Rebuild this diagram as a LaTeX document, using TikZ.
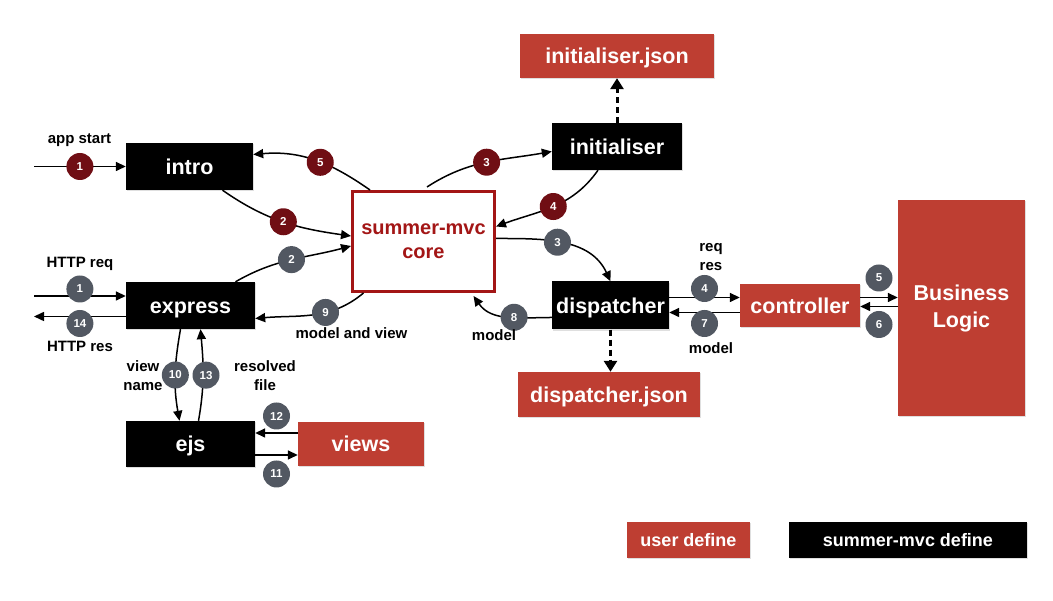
\documentclass[tikz,border=0pt]{standalone}
\usepackage{fontspec}
\setmainfont{Liberation Sans}
\usetikzlibrary{arrows.meta,calc,shadows}
\definecolor{ured}{RGB}{190,62,50}
\definecolor{dred}{RGB}{112,14,20}
\definecolor{bgrey}{RGB}{82,88,98}
\definecolor{cored}{RGB}{163,22,22}
\begin{document}
\begin{tikzpicture}[x=1pt,y=1pt,
 shad/.style={drop shadow={shadow xshift=1.2pt,shadow yshift=-1.2pt,opacity=0.25}},
 boxtxt/.style={font=\fontsize{21.5}{26}\selectfont\bfseries, text=white, inner sep=0pt, text height=17.5pt, text depth=2pt, shad},
 blk/.style={boxtxt, fill=black},
 usr/.style={boxtxt, fill=ured},
 legtxt/.style={font=\fontsize{18}{20}\selectfont\bfseries, text height=14.5pt, text depth=1.7pt},
 badge/.style={circle, text=white, minimum size=27pt, inner sep=0pt, font=\fontsize{11.5}{12}\selectfont\bfseries},
 badgeR/.style={badge, fill=dred},
 badgeG/.style={badge, fill=bgrey},
 lbl/.style={font=\fontsize{15}{19}\selectfont\bfseries, align=center, inner sep=0pt},
 arr/.style={line width=1.5pt, -{Triangle[length=10pt,width=9pt]}},
 darr/.style={line width=3pt, dash pattern=on 6pt off 4pt, -{Triangle[length=11pt,width=13pt]}},
]
\fill[white] (0,0) rectangle (1053,601);
\useasboundingbox (0,0) rectangle (1053,601);

% boxes
\node[blk, minimum width=127pt, minimum height=47pt] (intro) at (189.5,434.5) {intro};
\node[blk, minimum width=129pt, minimum height=47pt] (express) at (190.5,295.5) {express};
\node[blk, minimum width=129pt, minimum height=46pt] (ejs) at (190.5,157) {ejs};
\node[usr, minimum width=126pt, minimum height=44pt] (views) at (361,157) {views};
\node[draw=cored, line width=3pt, fill=white, text=cored, minimum width=142pt, minimum height=100pt, align=center, inner sep=0pt, font=\fontsize{20}{24}\selectfont\bfseries] (core) at (423.5,359.5) {summer-mvc\\core};
\node[blk, minimum width=130pt, minimum height=47pt] (init) at (617,454.5) {initialiser};
\node[usr, minimum width=194pt, minimum height=44pt] (initj) at (617,545) {initialiser.json};
\node[blk, minimum width=117pt, minimum height=48pt] (disp) at (610.5,295.5) {dispatcher};
\node[usr, minimum width=182pt, minimum height=45pt] (dispj) at (609,206.5) {dispatcher.json};
\node[usr, minimum width=120pt, minimum height=43pt] (ctrl) at (800,295.5) {controller};
\node[fill=ured, text=white, inner sep=0pt, shad, minimum width=127pt, minimum height=216pt, align=center, font=\fontsize{21.5}{27}\selectfont\bfseries] (bl) at (961.5,293) {Business\\Logic};
\node[usr, legtxt, minimum width=123pt, minimum height=36pt] (leg1) at (688.5,61) {user define};
\node[blk, legtxt, minimum width=238pt, minimum height=36pt] (leg2) at (908,61) {summer-mvc define};

% coordinates for free ends
\coordinate (appin) at (34,434.5);
\coordinate (reqin) at (34,305);
\coordinate (resout) at (34,284.5);

% left side
\draw[arr] (appin) -- node[badgeR]{1} (intro.west);
\draw[arr] (reqin) -- node[badgeG,yshift=7]{1} (reqin -| express.west);
\draw[arr] (resout -| express.west) -- node[badgeG,yshift=-7]{14} (resout);
\draw[arr] ([xshift=33]intro.south) to[out=-35,in=172] node[badgeR]{2} ([yshift=5.5]core.west);
\draw[arr] ([xshift=45]express.north) to[out=30,in=195] node[badgeG]{2} ([yshift=-4.5]core.west);
\draw[arr] ([xshift=-53.5]core.north) to[out=145,in=5] node[badgeR,pos=.45]{5} ([yshift=12]intro.east);
\draw[arr] ([xshift=-60]core.south) to[out=-140,in=5] node[badgeG,pos=.38]{9} ([yshift=-13]express.east);
\draw[arr] ([xshift=-10]express.south) to[out=-100,in=100] node[badgeG]{10} ([xshift=-11]ejs.north);
\draw[arr] ([xshift=8]ejs.north) to[out=80,in=-85] node[badgeG,xshift=3]{13} ([xshift=10]express.south);
\draw[arr] ([yshift=11]views.west) -- node[badgeG,yshift=17]{12} ([yshift=11]ejs.east);
\draw[arr] ([yshift=-11]ejs.east) -- node[badgeG,yshift=-19]{11} ([yshift=-11]views.west);

% right side
\draw[arr] ([xshift=3.5,yshift=3]core.north) to[out=33,in=190] node[badgeR]{3} ([yshift=-5]init.west);
\draw[arr] ([xshift=-19]init.south) to[out=-125,in=20] node[badgeR]{4} ([yshift=15]core.east);
\draw[arr] ([yshift=3]core.east) to[out=0,in=115] node[badgeG,pos=.45]{3} (disp.north);
\draw[arr] ([yshift=-12]disp.west) to[out=180,in=-55] node[badgeG,pos=.42]{8} ([xshift=50,yshift=-3]core.south);
\draw[darr] (init.north) -- (initj.south);
\draw[darr] (disp.south) -- (disp.south |- dispj.north);
\draw[arr] ([yshift=8]disp.east) -- node[badgeG,yshift=9]{4} ([yshift=8]ctrl.west);
\draw[arr] ([yshift=-7]ctrl.west) -- node[badgeG,yshift=-11]{7} ([yshift=-7]disp.east);
\draw[arr] ([yshift=8]ctrl.east) -- node[badgeG,yshift=19.5]{5} ([yshift=8]ctrl.east -| bl.west);
\coordinate (c6) at ([yshift=-1]ctrl.east);
\draw[arr] (c6 -| bl.west) -- node[badgeG,yshift=-18]{6} (c6);

% labels
\node[lbl] (lapp) at (79.5,460.5) {app start};
\node[lbl] (lreq) at (80,337.5) {HTTP req};
\node[lbl] (lres) at (80,254.5) {HTTP res};
\node[lbl] (lmv) at (351.5,268) {model and view};
\node[lbl] (lvn) at (143,225.5) {view\\name};
\node[lbl] (lrf) at (265,225.5) {resolved\\file};
\node[lbl] (lm8) at (494,266) {model};
\node[lbl] (lrr) at (711,344) {req\\res};
\node[lbl] (lm7) at (711,253) {model};
\end{tikzpicture}
\end{document}
